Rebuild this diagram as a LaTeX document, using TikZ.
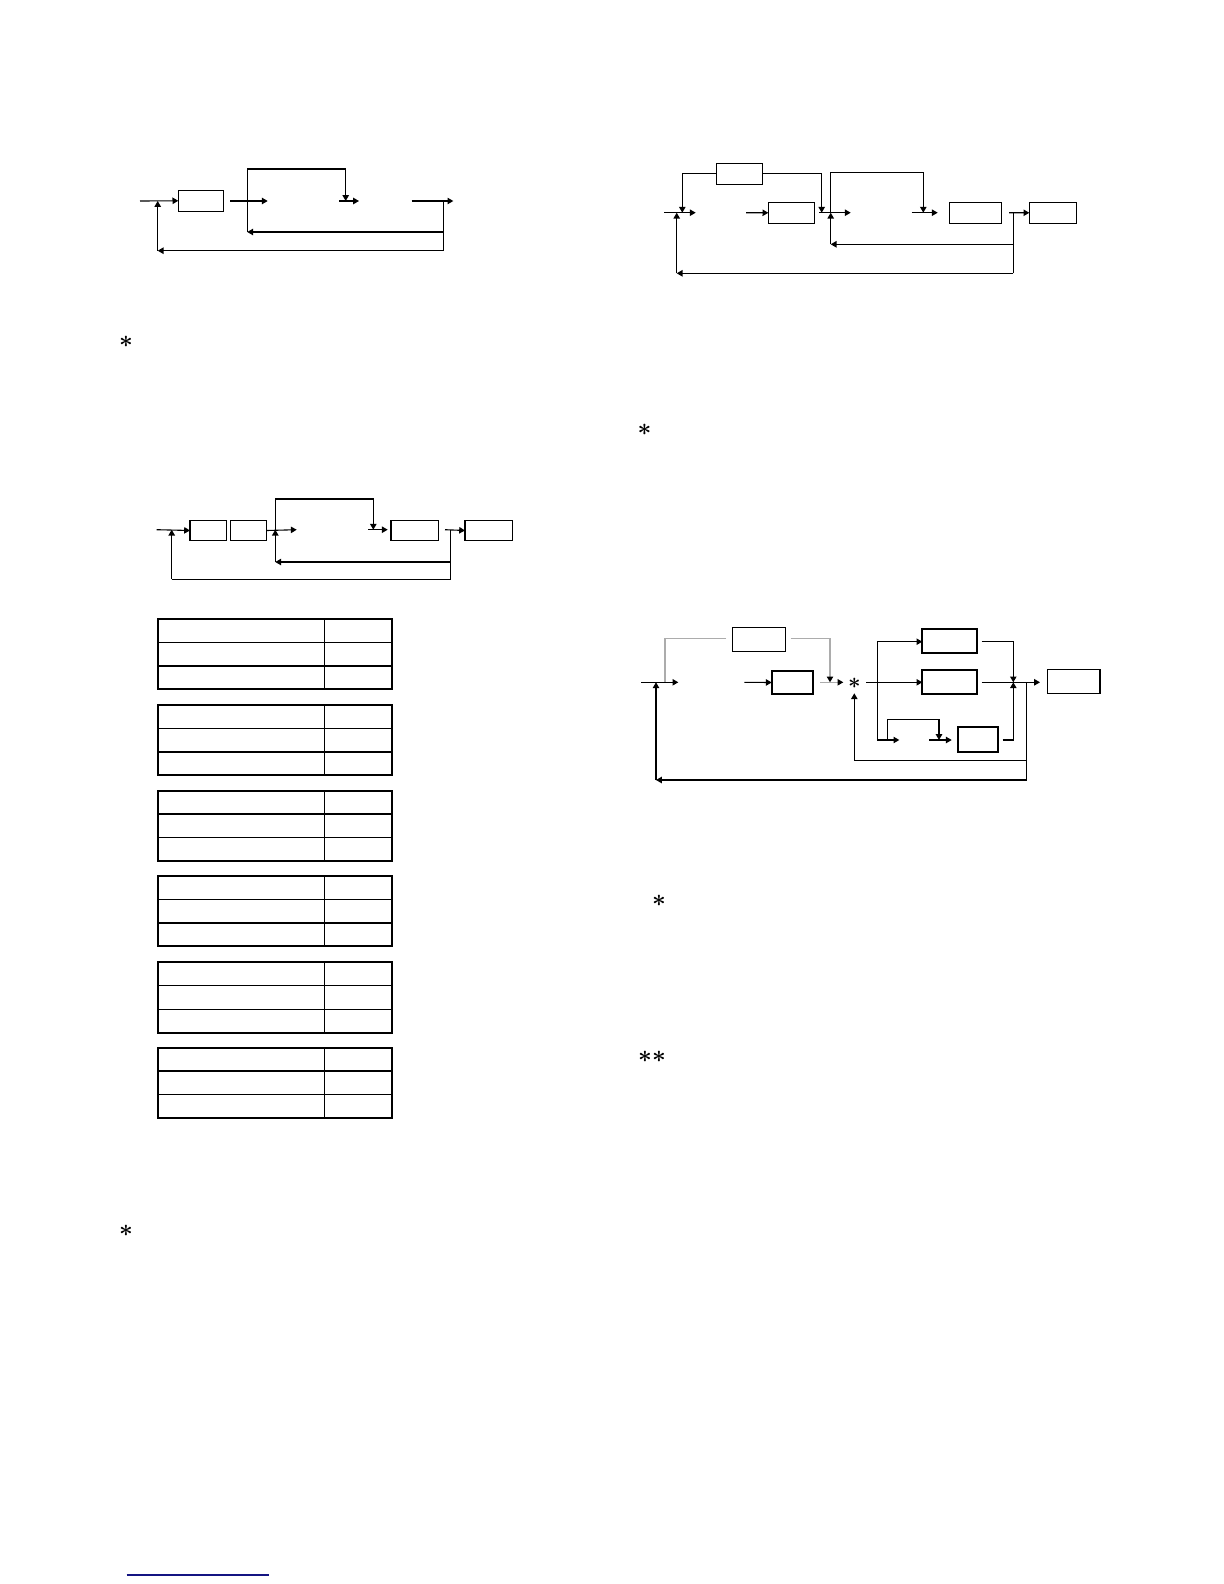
\documentclass[tikz,border=0pt]{standalone}
\usetikzlibrary{arrows.meta}
\definecolor{navyline}{RGB}{20,20,130}
\tikzset{
  ln/.style={line width=0.55pt},
  arr/.style={ln,-{Triangle[length=2.9pt,width=3.2pt]}},
  garr/.style={line width=0.55pt,draw=gray!65,-{Triangle[length=2.9pt,width=3.2pt,color=black]}},
  gln/.style={line width=0.55pt,draw=gray!65},
  box/.style={draw,line width=0.55pt,inner sep=0pt,outer sep=0pt},
  tbox/.style={box,line width=1.1pt},
  star/.style={inner sep=0pt,font=\fontsize{13}{15}\selectfont\boldmath},
  sstar/.style={inner sep=0pt,font=\fontsize{10.5}{12}\selectfont\boldmath},
  tabout/.style={line width=1.05pt},
  tabin/.style={line width=0.6pt}
}
\newcommand\mkbox[6][]{\node[box,#1,minimum width={((#5)-(#3))*0.5pt},minimum height={((#6)-(#4))*0.5pt}] (#2) at ({((#3)+(#5))/2},{((#4)+(#6))/2}) {};}
\begin{document}
\begin{tikzpicture}[x=0.5pt,y=-0.5pt]
\fill[white] (0,0) rectangle (1224,1584);
\useasboundingbox (0,0) rectangle (1224,1584);

% ---------------- Diagram 1 ----------------
\mkbox{b11}{178.3}{190.3}{223.3}{211.3}
\coordinate (d1in) at (140,201);
\coordinate (d1j) at (157.7,201);
\coordinate (d1fb) at (157.7,250.7);
\coordinate (d1o) at (443.3,201);
\coordinate (d1ob) at (443.3,250.7);
\coordinate (d1oi) at (443.3,232);
\coordinate (d1li) at (247.3,232);
\coordinate (d1lt) at (247.3,169);
\coordinate (d1rt) at (345.7,169);
\coordinate (d1j2) at (345.7,201);
\draw[arr] (d1in) -- (b11.west);
\draw[arr] (230,201) coordinate (d1a) -- (267.7,201) coordinate (d1b);
\draw[arr] (d1ob) -- (d1fb);
\draw[arr] (d1fb) -- (d1j);
\draw[ln] (d1o) -- (d1ob);
\draw[arr] (411.7,201) coordinate (d1c) -- (453.3,201) coordinate (d1out);
\draw[arr] (d1oi) -- (d1li);
\draw[arr] (d1li) -- (d1lt) -- (d1rt) -- (d1j2);
\draw[arr] (339.3,201) coordinate (d1d) -- (359,201) coordinate (d1e);

% ---------------- Diagram 2 ----------------
\mkbox{bt2}{716.3}{163.3}{762.3}{184.3}
\mkbox{b22}{768.3}{202.3}{814.3}{223.3}
\mkbox{b23}{949.3}{202.3}{1001.7}{223.3}
\mkbox{b24}{1029.3}{202.3}{1076.7}{223.3}
\coordinate (d2tl) at (682.3,173.3);
\coordinate (d2tld) at (682.3,212.7);
\coordinate (d2tr) at (821.7,173.3);
\coordinate (d2trd) at (821.7,212.7);
\coordinate (d2j) at (676.7,212.7);
\coordinate (d2fb) at (676.7,273.3);
\coordinate (d2o) at (1013.3,212.7);
\coordinate (d2ob) at (1013.3,273.3);
\coordinate (d2oi) at (1013.3,244.3);
\coordinate (d2li) at (830.7,244.3);
\coordinate (d2j2) at (830.7,212.7);
\coordinate (d2lt) at (830.7,172.3);
\coordinate (d2rt) at (923.3,172.3);
\coordinate (d2j3) at (923.3,212.7);
\draw[arr] (bt2.west |- d2tl) -- (d2tl) -- (d2tld);
\draw[arr] (bt2.east |- d2tr) -- (d2tr) -- (d2trd);
\draw[arr] (664,212.7) coordinate (d2in) -- (695.7,212.7) coordinate (d2a);
\draw[arr] (d2ob) -- (d2fb);
\draw[arr] (d2fb) -- (d2j);
\draw[arr] (746,212.7) coordinate (d2b) -- (b22.west);
\draw[arr] (819,212.7) coordinate (d2c) -- (850.7,212.7) coordinate (d2d);
\draw[arr] (d2oi) -- (d2li);
\draw[arr] (d2li) -- (d2j2);
\draw[arr] (d2j2) -- (d2lt) -- (d2rt) -- (d2j3);
\draw[arr] (911.7,212.7) coordinate (d2e) -- (937.7,212.7) coordinate (d2f);
\draw[arr] (1009,212.7) coordinate (d2g) -- (b24.west);
\draw[ln] (d2o) -- (d2ob);

% ---------------- Diagram 3 ----------------
\mkbox{b31}{190}{520.3}{226.7}{540.7}
\mkbox{b32}{230.3}{520.3}{266.7}{540.7}
\mkbox{b33}{391}{520.3}{438.3}{540.7}
\mkbox{b34}{465}{520.3}{512.3}{540.7}
\coordinate (d3in) at (156.7,529.7);
\coordinate (d3j) at (171.7,529.7);
\coordinate (d3fb) at (171.7,579.3);
\coordinate (d3o) at (450.7,529.7);
\coordinate (d3ob) at (450.7,579.3);
\coordinate (d3oi) at (450.7,562);
\coordinate (d3li) at (275.3,562);
\coordinate (d3j2) at (275.3,529.7);
\coordinate (d3lt) at (275.3,499);
\coordinate (d3rt) at (373.3,499);
\coordinate (d3j3) at (373.3,529.7);
\draw[arr] (d3in) -- (b31.west);
\draw[ln] (d3ob) -- (d3fb);
\draw[arr] (d3fb) -- (d3j);
\draw[arr] (b32.east) -- (296.7,529.7) coordinate (d3a);
\draw[arr] (d3oi) -- (d3li);
\draw[arr] (d3li) -- (d3j2);
\draw[arr] (d3j2) -- (d3lt) -- (d3rt) -- (d3j3);
\draw[arr] (368.3,529.7) coordinate (d3b) -- (387.7,529.7) coordinate (d3c);
\draw[arr] (445,529.7) coordinate (d3d) -- (b34.west);
\draw[ln] (d3o) -- (d3ob);

% ---------------- Diagram 4 ----------------
\mkbox{bt4}{732.3}{627.3}{785.7}{651.7}
\mkbox[tbox]{b42}{771.7}{670.7}{812.7}{694.3}
\mkbox[tbox]{bA}{922.3}{629.3}{976.7}{653.3}
\mkbox[tbox]{bB}{922.3}{670.3}{976.7}{694.3}
\mkbox[tbox]{bC}{957.7}{727.3}{998.3}{752.3}
\mkbox{bD}{1047.3}{669.3}{1100}{693.3}
\node[sstar] (st4) at (854.3,683) {$\ast$};
\coordinate (d4gl) at (665,638.3);
\coordinate (d4gld) at (665,682.3);
\coordinate (d4gr) at (830,638.3);
\coordinate (d4grd) at (830,682.3);
\coordinate (d4j) at (656,682.3);
\coordinate (d4fb) at (656,780);
\coordinate (d4o) at (1026.7,682.3);
\coordinate (d4ob) at (1026.7,780);
\coordinate (d4oi) at (1026.7,760.7);
\coordinate (d4li) at (854.3,760.7);
\coordinate (d4bt) at (877.3,641.7);
\coordinate (d4bb) at (877.3,740);
\coordinate (d4sl) at (887.3,740);
\coordinate (d4slt) at (887.3,719.3);
\coordinate (d4srt) at (939,719.3);
\coordinate (d4sj) at (939,740);
\coordinate (d4sumT) at (1013.3,641.7);
\coordinate (d4sum) at (1013.3,682.3);
\coordinate (d4sumB) at (1013.3,740);
\draw[gln] (726,638.3) coordinate (d4g0) -- (d4gl) -- (d4gld);
\draw[garr] (790.7,638.3) coordinate (d4g1) -- (d4gr) -- (d4grd);
\draw[arr] (641,682.3) coordinate (d4in) -- (678.3,682.3) coordinate (d4a);
\draw[arr] (d4ob) -- (d4fb);
\draw[arr] (d4fb) -- (d4j);
\draw[arr] (744.3,682.3) coordinate (d4b) -- (b42.west);
\draw[garr] (820,682.3) coordinate (d4c) -- (843.3,682.3) coordinate (d4d);
\draw[arr] (866,682.3) coordinate (d4e) -- (bB.west);
\draw[ln] (d4oi) -- (d4li);
\draw[arr] (d4li) -- (854.3,693.3) coordinate (d4st);
\draw[ln] (d4bt) -- (d4bb);
\draw[arr] (d4bt) -- (bA.west |- d4bt);
\draw[arr] (d4bb) -- (899.3,740) coordinate (d4f);
\draw[arr] (d4sl) -- (d4slt) -- (d4srt) -- (d4sj);
\draw[arr] (929.3,740) coordinate (d4g) -- (951.7,740) coordinate (d4h);
\draw[arr] (981.7,641.7) coordinate (d4k) -- (d4sumT) -- (d4sum);
\draw[arr] (981.7,682.3) coordinate (d4m) -- (1040,682.3) coordinate (d4n);
\draw[arr] (1002.7,740) coordinate (d4p) -- (d4sumB) -- (d4sum);
\draw[ln] (d4o) -- (d4ob);

% ---------------- Tables ----------------
\foreach \t in {619,705,790.7,876,962.3,1047.7}{
  \draw[tabin] (158.3,\t+23.3) -- (392.3,\t+23.3);
  \draw[tabin] (158.3,\t+47) -- (392.3,\t+47);
  \draw[tabin] (324.3,\t) -- (324.3,\t+70.3);
  \draw[tabout] (158.3,\t) rectangle (392.3,\t+70.3);
}

% ---------------- Asterisks ----------------
\node[star] (a1) at (126,342) {$\ast$};
\node[star] (a2) at (644.5,429.5) {$\ast$};
\node[star] (a3) at (659,901) {$\ast$};
\node[star] (a4) at (652,1056.5) {$\ast\ast$};
\node[star] (a5) at (126,1231) {$\ast$};

% ---------------- Bottom rule ----------------
\draw[navyline,line width=0.7pt] (126.7,1575) coordinate (r0) -- (269,1575) coordinate (r1);
\end{tikzpicture}
\end{document}
